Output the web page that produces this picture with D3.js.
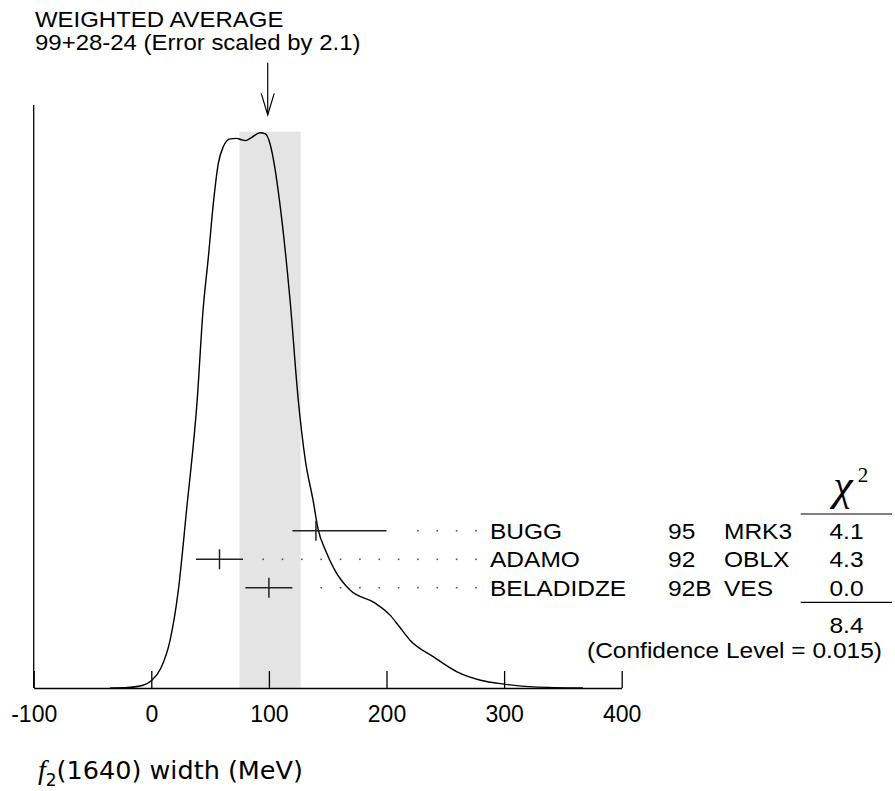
<!DOCTYPE html>
<html>
<head>
<meta charset="utf-8">
<script src="https://cdn.jsdelivr.net/npm/d3@7"></script>
<style>
  html, body { margin: 0; padding: 0; background: #fff; }
  svg { display: block; }
  text { font-family: "Liberation Sans", Arial, Helvetica, sans-serif; fill: #000; }
</style>
</head>
<body>
<script>
// ---------- data ----------
const tickValues = [-100, 0, 100, 200, 300, 400];
const tickLabels = ["-100", "0", "100", "200", "300", "400"];

// ideogram curve (width in MeV, relative height)
const curveX = [-35, -20, -7, 0, 8, 16, 23, 30, 39, 44, 48.5, 53, 57, 61, 67, 72.5, 76, 80, 85.5, 92.5, 97, 101, 105, 109, 118, 125, 131, 137.5, 142, 148, 156, 169, 190, 203, 211, 220, 240, 260, 280, 300, 325, 367];
const curveY = [0, 0.001, 0.005, 0.013, 0.035, 0.086, 0.176, 0.32, 0.517, 0.679, 0.774, 0.876, 0.943, 0.972, 0.987, 0.988, 0.986, 0.984, 0.990, 0.998, 0.996, 0.978, 0.936, 0.876, 0.697, 0.517, 0.409, 0.338, 0.284, 0.248, 0.212, 0.176, 0.153, 0.131, 0.110, 0.086, 0.056, 0.029, 0.014, 0.007, 0.002, 0];

// measurements
const names = ["BUGG", "ADAMO", "BELADIDZE"];
const years = ["95", "92", "92B"];
const experiments = ["MRK3", "OBLX", "VES"];
const values = [140, 58, 100];
const errMinus = [20, 20, 20];
const errPlus = [60, 20, 20];
const chi2 = ["4.1", "4.3", "0.0"];
const chi2Total = "8.4";
const confidence = "(Confidence Level = 0.015)";

// weighted average
const avgValue = 99;
const avgPlus = 28;
const avgMinus = 24;
const titleLines = ["WEIGHTED AVERAGE", "99+28-24 (Error scaled by 2.1)"];

// ---------- layout ----------
const W = 895, H = 791;
const axisY = 688;
const x = d3.scaleLinear().domain([-100, 400]).range([33.7, 621.7]);
const y = d3.scaleLinear().domain([0, 1]).range([axisY, 131.7]);
const yAxisTop = 1.048;
const rowY = [530.7, 559.3, 587.7];
const SX = 1.115; // horizontal stretch of Helvetica text

const svg = d3.select("body").append("svg").attr("width", W).attr("height", H);
svg.append("rect").attr("width", W).attr("height", H).attr("fill", "#fff");

function stext(g, px, py, str, anchor, size) {
  return g.append("text")
    .attr("transform", `translate(${px},${py}) scale(${SX},1)`)
    .attr("text-anchor", anchor || "start")
    .style("font-size", (size || 22) + "px")
    .text(str);
}

// band for weighted average
svg.append("rect")
  .attr("x", x(avgValue - avgMinus))
  .attr("y", y(1))
  .attr("width", x(avgValue + avgPlus) - x(avgValue - avgMinus))
  .attr("height", y(0) - y(1))
  .attr("fill", "#e4e4e4");

// left axis line
svg.append("line")
  .attr("x1", x(-100)).attr("x2", x(-100))
  .attr("y1", y(0)).attr("y2", y(yAxisTop))
  .attr("stroke", "#000").attr("stroke-width", 1.3);

// bottom axis
const xAxis = d3.axisBottom(x)
  .tickValues(tickValues)
  .tickFormat((d, i) => tickLabels[i])
  .tickSizeInner(-17)
  .tickSizeOuter(0)
  .tickPadding(17.5);
const gx = svg.append("g").attr("transform", `translate(0,${axisY})`).call(xAxis);
gx.select(".domain").attr("stroke", "#000").attr("stroke-width", 1.3);
gx.selectAll(".tick line").attr("stroke", "#000").attr("stroke-width", 1.3);
gx.selectAll(".tick text")
  .attr("fill", "#000")
  .style("font-family", '"Liberation Sans", Arial, sans-serif')
  .style("font-size", "23px");

// ideogram curve
const pts = curveX.map((v, i) => [v, curveY[i]]);
svg.append("path")
  .datum(pts)
  .attr("d", d3.line().x(d => x(d[0])).y(d => y(d[1])).curve(d3.curveMonotoneX))
  .attr("fill", "none")
  .attr("stroke", "#000")
  .attr("stroke-width", 1.4);

// arrow to weighted average
const ax = x(avgValue);
svg.append("line").attr("x1", ax).attr("x2", ax).attr("y1", 62.7).attr("y2", 115)
  .attr("stroke", "#000").attr("stroke-width", 1.2);
svg.append("path")
  .attr("d", `M${ax - 6.5},93.3L${ax},115L${ax + 6.5},93.3`)
  .attr("fill", "none").attr("stroke", "#000").attr("stroke-width", 1.2);

// title lines
stext(svg, 35, 26.5, titleLines[0], "start", 21.5);
stext(svg, 35, 49.5, titleLines[1], "start", 21.5);

// measurements
const dotEnd = 476, dotStep = 19.35;
const gm = svg.append("g");
names.forEach((name, i) => {
  const yy = rowY[i];
  const lo = x(values[i] - errMinus[i]);
  const hi = x(values[i] + errPlus[i]);
  gm.append("line").attr("x1", lo).attr("x2", hi).attr("y1", yy).attr("y2", yy)
    .attr("stroke", "#222").attr("stroke-width", 1.5);
  gm.append("line").attr("x1", x(values[i])).attr("x2", x(values[i]))
    .attr("y1", yy - 10).attr("y2", yy + 10)
    .attr("stroke", "#222").attr("stroke-width", 1.5);
  // dotted leader
  const dots = d3.range(dotEnd, hi + 15, -dotStep);
  gm.selectAll(null).data(dots).enter().append("rect")
    .attr("x", d => d - 0.8).attr("y", yy - 0.8)
    .attr("width", 1.6).attr("height", 1.6)
    .attr("fill", "#555");
  stext(gm, 490, yy + 8, name);
  stext(gm, 668, yy + 8, years[i]);
  stext(gm, 724, yy + 8, experiments[i]);
  stext(gm, 846.5, yy + 8, chi2[i], "middle");
});

// chi-square header and lines
svg.append("text")
  .attr("x", 843).attr("y", 500)
  .attr("text-anchor", "middle")
  .style("font-family", '"Liberation Serif", "Times New Roman", serif')
  .style("font-style", "italic")
  .style("font-size", "44px")
  .text("χ");
svg.append("text")
  .attr("x", 863).attr("y", 482)
  .attr("text-anchor", "middle")
  .style("font-family", '"Liberation Serif", "Times New Roman", serif')
  .style("font-size", "21px")
  .text("2");
[514, 602.3].forEach(ly => {
  svg.append("line").attr("x1", 800.7).attr("x2", 892).attr("y1", ly).attr("y2", ly)
    .attr("stroke", "#000").attr("stroke-width", 1.2);
});
stext(svg, 846.5, 633, chi2Total, "middle");
stext(svg, 882, 658, confidence, "end");

// x-axis title
const tt = svg.append("text").attr("x", 38).attr("y", 779)
  .style("font-family", '"DejaVu Sans", sans-serif').style("font-size", "25.5px");
tt.append("tspan").style("font-family", '"Liberation Serif", serif').style("font-style", "italic")
  .style("font-size", "28px").text("f");
tt.append("tspan").attr("dy", 7).style("font-size", "17px").text("2");
tt.append("tspan").attr("dy", -7).text("(1640) width (MeV)");
</script>
</body>
</html>
